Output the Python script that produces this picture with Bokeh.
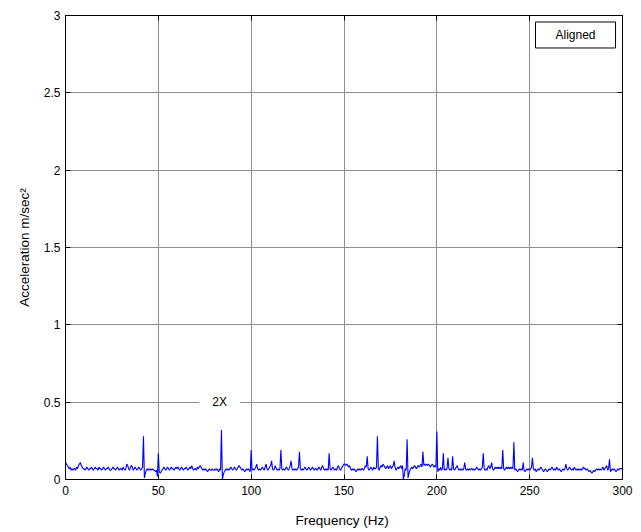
import numpy as np
from bokeh.plotting import figure
from bokeh.models import LinearAxis, Label, FixedTicker, Range1d, CustomJSTickFormatter
from bokeh.embed import file_html
from bokeh.resources import INLINE

# ---- data ----
freq_step = 0.5  # Hz between samples, starting at 0 Hz
amplitude = [
    0.11,0.10,0.09,0.08,0.07,0.08,0.06,0.07,0.06,0.07,0.07,0.06,0.08,0.07,0.09,0.10,0.11,0.09,0.08,0.07,
    0.07,0.06,0.07,0.08,0.07,0.06,0.07,0.07,0.08,0.07,0.06,0.07,0.08,0.07,0.07,0.06,0.08,0.07,0.07,0.06,
    0.07,0.08,0.07,0.06,0.07,0.07,0.08,0.07,0.06,0.06,0.07,0.08,0.07,0.07,0.06,0.07,0.08,0.07,0.06,0.07,
    0.07,0.06,0.08,0.07,0.06,0.07,0.10,0.09,0.07,0.06,0.08,0.09,0.08,0.06,0.07,0.08,0.07,0.06,0.07,0.08,
    0.07,0.06,0.07,0.08,0.28,0.01,0.04,0.06,0.07,0.06,0.07,0.06,0.07,0.06,0.07,0.06,0.06,0.05,0.06,0.02,
    0.17,0.05,0.04,0.05,0.06,0.07,0.08,0.07,0.06,0.07,0.08,0.07,0.06,0.07,0.08,0.07,0.07,0.06,0.07,0.08,
    0.07,0.08,0.07,0.06,0.07,0.08,0.07,0.06,0.07,0.07,0.08,0.07,0.06,0.07,0.08,0.07,0.09,0.07,0.06,0.07,
    0.07,0.06,0.08,0.07,0.08,0.09,0.08,0.07,0.06,0.07,0.06,0.07,0.06,0.05,0.06,0.07,0.06,0.06,0.07,0.06,
    0.06,0.07,0.06,0.07,0.06,0.05,0.07,0.06,0.32,0.00,0.03,0.05,0.06,0.07,0.06,0.07,0.06,0.07,0.08,0.07,
    0.06,0.07,0.08,0.07,0.06,0.07,0.08,0.09,0.08,0.07,0.06,0.07,0.06,0.05,0.06,0.07,0.06,0.07,0.06,0.05,
    0.19,0.06,0.07,0.06,0.07,0.08,0.10,0.07,0.06,0.07,0.06,0.07,0.08,0.07,0.06,0.08,0.10,0.07,0.06,0.07,
    0.08,0.09,0.12,0.07,0.06,0.07,0.09,0.07,0.06,0.07,0.06,0.07,0.19,0.07,0.06,0.07,0.06,0.07,0.08,0.07,
    0.06,0.07,0.09,0.12,0.07,0.06,0.07,0.06,0.07,0.06,0.07,0.08,0.18,0.07,0.06,0.07,0.06,0.07,0.08,0.07,
    0.06,0.07,0.08,0.07,0.06,0.07,0.08,0.07,0.06,0.07,0.07,0.06,0.07,0.08,0.07,0.06,0.08,0.09,0.07,0.06,
    0.07,0.06,0.07,0.06,0.17,0.07,0.06,0.07,0.08,0.07,0.06,0.07,0.06,0.08,0.09,0.07,0.06,0.07,0.08,0.09,
    0.10,0.10,0.09,0.10,0.09,0.08,0.09,0.07,0.06,0.07,0.06,0.07,0.06,0.05,0.06,0.07,0.06,0.07,0.06,0.07,
    0.07,0.06,0.07,0.09,0.08,0.15,0.07,0.06,0.07,0.08,0.07,0.06,0.08,0.07,0.07,0.08,0.28,0.07,0.06,0.08,
    0.09,0.08,0.10,0.09,0.08,0.07,0.08,0.09,0.07,0.08,0.09,0.07,0.08,0.09,0.12,0.08,0.06,0.07,0.08,0.07,
    0.08,0.09,0.07,0.09,0.00,0.03,0.07,0.06,0.26,0.01,0.04,0.06,0.07,0.08,0.07,0.08,0.09,0.08,0.07,0.08,
    0.09,0.08,0.09,0.10,0.08,0.18,0.09,0.10,0.09,0.10,0.09,0.10,0.09,0.08,0.09,0.10,0.09,0.08,0.09,0.08,
    0.31,0.05,0.07,0.06,0.08,0.06,0.07,0.17,0.06,0.07,0.06,0.07,0.14,0.07,0.06,0.07,0.06,0.15,0.07,0.06,
    0.07,0.08,0.09,0.07,0.06,0.07,0.06,0.07,0.06,0.07,0.11,0.07,0.06,0.07,0.06,0.07,0.06,0.07,0.07,0.06,
    0.07,0.06,0.07,0.08,0.07,0.06,0.07,0.06,0.07,0.08,0.17,0.07,0.06,0.07,0.06,0.08,0.09,0.07,0.08,0.11,
    0.07,0.06,0.07,0.08,0.07,0.08,0.07,0.08,0.07,0.08,0.07,0.19,0.07,0.06,0.07,0.08,0.07,0.08,0.07,0.08,
    0.07,0.08,0.07,0.24,0.06,0.07,0.06,0.05,0.06,0.07,0.06,0.07,0.06,0.11,0.06,0.05,0.06,0.07,0.06,0.07,
    0.06,0.07,0.08,0.14,0.07,0.06,0.07,0.05,0.06,0.07,0.06,0.07,0.08,0.07,0.06,0.05,0.06,0.07,0.06,0.05,
    0.06,0.07,0.06,0.07,0.08,0.07,0.06,0.07,0.06,0.08,0.07,0.06,0.07,0.06,0.05,0.06,0.07,0.06,0.07,0.10,
    0.07,0.06,0.07,0.08,0.07,0.06,0.07,0.06,0.08,0.07,0.06,0.07,0.06,0.07,0.06,0.07,0.06,0.07,0.08,0.07,
    0.07,0.06,0.07,0.06,0.05,0.06,0.05,0.04,0.05,0.06,0.05,0.06,0.07,0.06,0.07,0.06,0.07,0.06,0.07,0.08,
    0.06,0.07,0.08,0.09,0.06,0.07,0.13,0.05,0.06,0.07,0.06,0.07,0.06,0.05,0.06,0.07,0.06,0.07,0.07,0.07,
    0.07,
]
x_ticks = [0, 50, 100, 150, 200, 250, 300]
y_ticks = [0, 0.5, 1, 1.5, 2, 2.5, 3]
annotation_text = "2X"
annotation_freq = 83
annotation_level = 0.5
legend_text = "Aligned"
x_label = "Frequency  (Hz)"
y_label = "Acceleration m/sec\u00b2"

freq = np.arange(len(amplitude)) * freq_step

FONT = "Liberation Sans"

p = figure(width=641, height=532, output_backend="svg", toolbar_location=None,
           x_range=Range1d(0, 300), y_range=Range1d(0, 3),
           min_border_left=65, min_border_right=19, min_border_top=15, min_border_bottom=53,
           background_fill_color="white", border_fill_color="white")

p.line(freq, amplitude, line_color="#0000ff", line_width=1.1)

plain = CustomJSTickFormatter(code="return tick.toString();")
blank = CustomJSTickFormatter(code="return '';")

def style_axis(ax, ticks, show_labels):
    ax.ticker = FixedTicker(ticks=ticks)
    ax.major_tick_in = 5
    ax.major_tick_out = 0
    ax.minor_tick_line_color = None
    ax.axis_line_color = "black"
    ax.major_tick_line_color = "black"
    ax.major_label_text_font = FONT
    ax.major_label_text_font_size = "12px"
    ax.major_label_text_color = "black"
    if show_labels:
        ax.formatter = plain
    else:
        ax.formatter = blank
        ax.major_label_text_font_size = "0px"
        ax.major_label_standoff = 0

style_axis(p.xaxis[0], x_ticks, True)
style_axis(p.yaxis[0], y_ticks, True)
p.xaxis[0].major_label_standoff = 6
p.yaxis[0].major_label_standoff = 5

p.xaxis[0].axis_label = x_label
p.yaxis[0].axis_label = y_label
for ax in (p.xaxis[0], p.yaxis[0]):
    ax.axis_label_text_font = FONT
    ax.axis_label_text_font_size = "13.5px"
    ax.axis_label_text_font_style = "normal"
    ax.axis_label_text_color = "black"
p.xaxis[0].axis_label_standoff = 15
p.yaxis[0].axis_label_standoff = 9

top_ax = LinearAxis()
right_ax = LinearAxis()
style_axis(top_ax, x_ticks, False)
style_axis(right_ax, y_ticks, False)
p.add_layout(top_ax, "above")
p.add_layout(right_ax, "right")

p.xgrid.ticker = FixedTicker(ticks=x_ticks)
p.ygrid.ticker = FixedTicker(ticks=y_ticks)
for g in (p.xgrid[0], p.ygrid[0]):
    g.grid_line_color = "#8f8f8f"
    g.grid_line_width = 1

p.outline_line_color = "black"

p.add_layout(Label(x=annotation_freq, y=annotation_level, text=annotation_text,
                   text_align="center", text_baseline="middle",
                   text_font=FONT, text_font_size="12px", text_color="black",
                   background_fill_color="white",
                   padding=dict(left=13, right=13, top=2, bottom=2)))

p.add_layout(Label(x=274.7, y=2.874, text=legend_text,
                   text_align="center", text_baseline="middle",
                   text_font=FONT, text_font_size="12px", text_color="black",
                   background_fill_color="white", border_line_color="black",
                   border_line_width=1,
                   padding=dict(left=20, right=20, top=6, bottom=6)))

open("out.html", "w").write(file_html(p, INLINE))
